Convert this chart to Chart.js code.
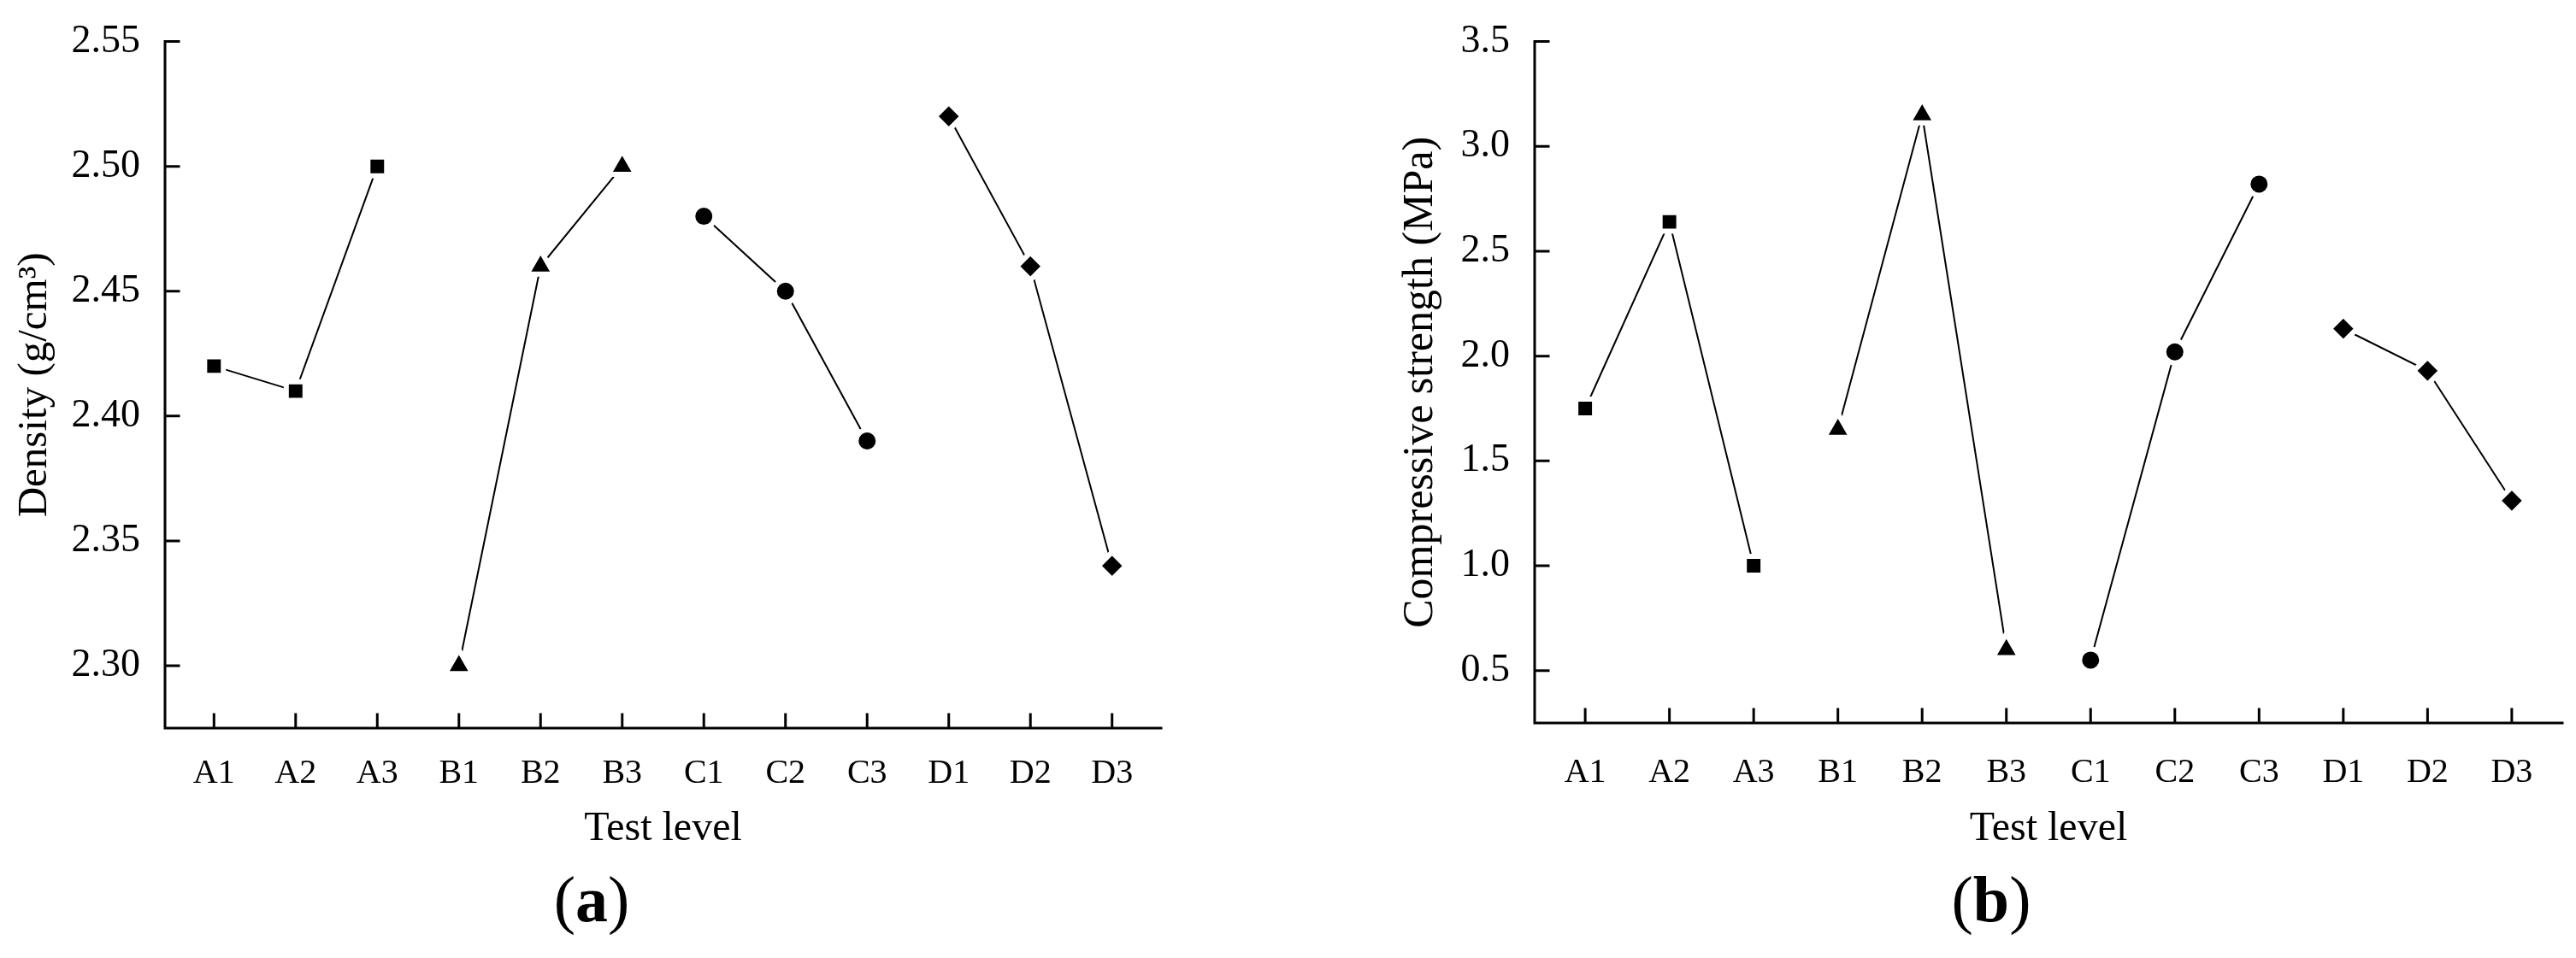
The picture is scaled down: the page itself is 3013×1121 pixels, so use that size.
<!DOCTYPE html>
<html>
<head>
<meta charset="utf-8">
<script src="https://cdn.jsdelivr.net/npm/chart.js@4.4.1/dist/chart.umd.min.js"></script>
<style>
  body { margin: 0; background: #fff; width: 3013px; height: 1121px; overflow: hidden; position: relative; }
  canvas { position: absolute; top: 0; }
  #density { left: 0; }
  #strength { left: 1620px; }
</style>
</head>
<body>
<canvas id="density" width="1384" height="1121"></canvas>
<canvas id="strength" width="1418" height="1121"></canvas>
<script>
// test levels along the x axis, grouped by factor (3 levels each)
const levels = ['A1', 'A2', 'A3', 'B1', 'B2', 'B3', 'C1', 'C2', 'C3', 'D1', 'D2', 'D3']
const factors = ['A', 'B', 'C', 'D']

const density = [2.42, 2.41, 2.50, 2.30, 2.46, 2.50, 2.48, 2.45, 2.39, 2.52, 2.46, 2.34]
const strength = [1.75, 2.64, 1.00, 1.65, 3.15, 0.60, 0.55, 2.02, 2.82, 2.13, 1.93, 1.31]

const densityTicks = [2.30, 2.35, 2.40, 2.45, 2.50, 2.55]
const strengthTicks = [0.5, 1.0, 1.5, 2.0, 2.5, 3.0, 3.5]

// marker per factor: square, triangle, circle, diamond
const markers = {
  A: { pointStyle: 'rect', pointRadius: 15.5 },
  B: { pointStyle: 'triangle', pointRadius: 18.5 },
  C: { pointStyle: 'circle', pointRadius: 13 },
  D: { pointStyle: 'rectRot', pointRadius: 16 }
}

Chart.defaults.font.family = "'Liberation Serif', 'Times New Roman', serif"
Chart.defaults.color = '#000'

// axis lines with inward tick marks
const axesPlugin = {
  id: 'axes',
  beforeDatasetsDraw(chart) {
    const { ctx, chartArea: { left, right, top, bottom }, scales: { x, y } } = chart
    ctx.save()
    ctx.strokeStyle = '#000'
    ctx.lineWidth = 3
    ctx.lineCap = 'square'
    ctx.beginPath()
    ctx.moveTo(left, top)
    ctx.lineTo(left, bottom)
    ctx.lineTo(right, bottom)
    y.ticks.forEach(t => {
      const py = y.getPixelForValue(t.value)
      ctx.moveTo(left, py)
      ctx.lineTo(left + 16, py)
    })
    x.ticks.forEach(t => {
      const px = x.getPixelForValue(t.value)
      ctx.moveTo(px, bottom)
      ctx.lineTo(px, bottom - 16)
    })
    ctx.stroke()
    ctx.restore()
  }
}

// "(a)" / "(b)" under each panel, letter in bold
const panelLabelPlugin = {
  id: 'panelLabel',
  afterDraw(chart, args, opts) {
    const { ctx } = chart
    const family = Chart.defaults.font.family
    const parts = [
      { s: '(', f: `76px ${family}` },
      { s: opts.letter, f: `bold 76px ${family}` },
      { s: ')', f: `76px ${family}` }
    ]
    ctx.save()
    ctx.fillStyle = '#000'
    ctx.textBaseline = 'middle'
    ctx.textAlign = 'left'
    let total = 0
    parts.forEach(p => { ctx.font = p.f; p.w = ctx.measureText(p.s).width; total += p.w })
    let x = chart.width / 2 - total / 2
    parts.forEach(p => { ctx.font = p.f; ctx.fillText(p.s, x, opts.y); x += p.w })
    ctx.restore()
  }
}

const buildDatasets = values => factors.map((f, k) => ({
  label: f,
  data: [0, 1, 2].map(j => ({ x: 3 * k + j, y: values[3 * k + j] })),
  borderColor: '#000',
  borderWidth: 2,
  backgroundColor: '#000',
  pointBackgroundColor: '#000',
  pointBorderColor: '#fff',
  pointBorderWidth: 6,
  tension: 0,
  ...markers[f]
}))

const makeChart = (id, cfg) => new Chart(document.getElementById(id), {
  type: 'line',
  data: { datasets: buildDatasets(cfg.values) },
  options: {
    responsive: false,
    animation: false,
    layout: { padding: { left: 0, top: cfg.top, right: cfg.right, bottom: 0 } },
    plugins: {
      legend: { display: false },
      tooltip: { enabled: false },
      panelLabel: { letter: cfg.letter, y: 1058 }
    },
    scales: {
      x: {
        type: 'linear',
        min: -0.6,
        max: levels.length - 0.4,
        grid: { display: false },
        border: { display: false },
        afterBuildTicks: s => { s.ticks = levels.map((_, i) => ({ value: i })) },
        afterFit: s => { s.height = cfg.xHeight },
        ticks: {
          autoSkip: false,
          maxRotation: 0,
          padding: cfg.xPad,
          font: { size: 40 },
          callback: v => levels[v]
        },
        title: {
          display: true,
          text: 'Test level',
          font: { size: 48 },
          padding: { top: 0, bottom: 122 }
        }
      },
      y: {
        min: cfg.min,
        max: cfg.max,
        grid: { display: false },
        border: { display: false },
        afterBuildTicks: s => { s.ticks = cfg.ticks.map(v => ({ value: v })) },
        afterFit: s => { s.width = cfg.yWidth },
        ticks: {
          padding: 21,
          font: { size: 46 },
          callback: v => v.toFixed(cfg.decimals)
        },
        title: {
          display: true,
          text: cfg.yTitle,
          font: { size: cfg.yTitleSize },
          padding: { top: cfg.yTitlePad, bottom: 0 }
        }
      }
    }
  },
  plugins: [axesPlugin, panelLabelPlugin]
})

makeChart('density', {
  values: density,
  ticks: densityTicks,
  min: 2.275,
  max: 2.55,
  decimals: 2,
  top: 40,
  right: 26,
  yWidth: 193,
  xHeight: 269,
  xPad: 21,
  yTitle: 'Density (g/cm³)',
  yTitleSize: 49,
  yTitlePad: 12,
  letter: 'a'
})

makeChart('strength', {
  values: strength,
  ticks: strengthTicks,
  min: 0.25,
  max: 3.5,
  decimals: 1,
  top: 42,
  right: 41,
  yWidth: 175,
  xHeight: 275,
  xPad: 26,
  yTitle: 'Compressive strength (MPa)',
  yTitleSize: 50,
  yTitlePad: 11.8,
  letter: 'b'
})
</script>
</body>
</html>
